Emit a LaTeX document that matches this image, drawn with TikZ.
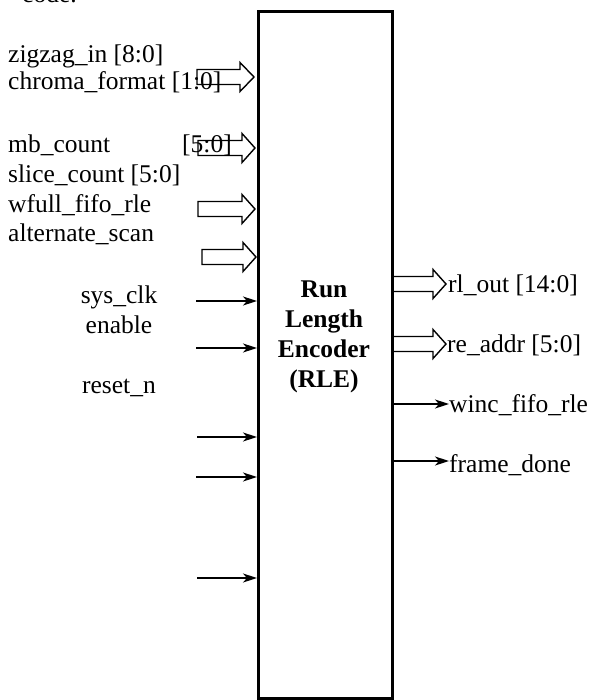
\documentclass[tikz,border=0pt]{standalone}
\usepackage{fontspec}
\setmainfont{Liberation Serif}
\usetikzlibrary{arrows.meta,calc}

% hollow bus arrow: shaft start x, head base x, tip x, centre y
\newcommand{\busarrow}[4]{%
  \draw[busline] (#1,#4-7.5) -- (#2,#4-7.5) -- (#2,#4-14.5) -- (#3,#4)
    -- (#2,#4+14.5) -- (#2,#4+7.5) -- (#1,#4+7.5) -- cycle;}

\begin{document}
\begin{tikzpicture}[x=1pt,y=-1pt,
  lbl/.style={inner sep=0pt,font=\fontsize{25.5}{30}\selectfont},
  busline/.style={line width=1.4pt,line join=miter},
  sig/.style={line width=1.5pt,-{Stealth[length=14pt,width=9pt,inset=4pt]}},
  blockbox/.style={draw,line width=2.6pt,inner sep=0pt,
    minimum width=134pt,minimum height=687pt}]
\useasboundingbox (0,0) rectangle (590,700);

% the encoder block
\node[blockbox,anchor=north west] (rle) at (257,10) {};
\node[lbl,align=center,font=\fontsize{25.5}{30}\selectfont\bfseries] (title)
  at (324,337) {Run\\Length\\Encoder\\(RLE)};

% caption fragment at the top edge
\node[lbl,anchor=base west] (cap) at (22,3) {code.};

% input labels
\node[lbl,anchor=base west] (zz)  at (8,63)  {zigzag\_in [8:0]};
\node[lbl,anchor=base west] (cf)  at (8,90)  {chroma\_format [1:0]};
\node[lbl,anchor=base west] (mb)  at (8,153) {mb\_count};
\node[lbl,anchor=base west] (mbw) at (182,153) {[5:0]};
\node[lbl,anchor=base west] (sc)  at (8,183) {slice\_count [5:0]};
\node[lbl,anchor=base west] (wf)  at (8,213) {wfull\_fifo\_rle};
\node[lbl,anchor=base west] (as)  at (8,242) {alternate\_scan};
\node[lbl,anchor=base] (clk) at (119,303) {sys\_clk};
\node[lbl,anchor=base] (en)  at (119,333) {enable};
\node[lbl,anchor=base] (rst) at (119,393) {reset\_n};

% output labels
\node[lbl,anchor=base west] (rl)  at (448,292) {rl\_out [14:0]};
\node[lbl,anchor=base west] (ra)  at (447,352) {re\_addr [5:0]};
\node[lbl,anchor=base west] (wi)  at (449,412) {winc\_fifo\_rle};
\node[lbl,anchor=base west] (fd)  at (449,472) {frame\_done};

% bus inputs
\busarrow{197}{240}{254}{77}
\busarrow{198}{242}{255}{148}
\busarrow{198}{242}{255}{209}
\busarrow{202}{243}{256}{257}

% bus outputs
\busarrow{392}{433}{446}{284}
\busarrow{392}{433}{446}{344}

% single-bit inputs
\coordinate (i1) at (196,301);
\coordinate (i2) at (196,348);
\coordinate (i3) at (197,437);
\coordinate (i4) at (196,477);
\coordinate (i5) at (197,578);
\foreach \c in {i1,i2,i3,i4,i5}
  \draw[sig] (\c) -- (rle.west |- \c);

% single-bit outputs
\coordinate (o1) at (449,404);
\coordinate (o2) at (449,461);
\draw[sig] (rle.east |- o1) -- (o1);
\draw[sig] (rle.east |- o2) -- (o2);
\end{tikzpicture}
\end{document}
